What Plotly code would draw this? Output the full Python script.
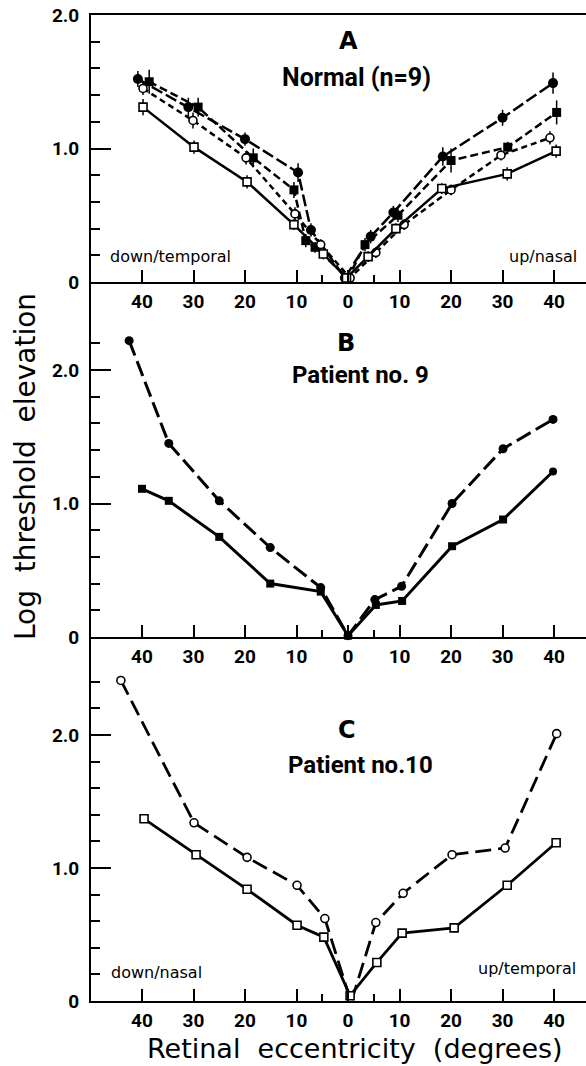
import plotly.graph_objects as go

# ---------------- data ----------------
# Panel A : Normal (n=9)
A_fc_x = [-40.8, -31.0, -20.0, -9.7, -7.2, -0.6, 4.4, 8.8, 18.4, 30.0, 39.8]
A_fc_y = [1.52, 1.31, 1.07, 0.82, 0.39, 0.03, 0.34, 0.52, 0.94, 1.23, 1.49]
A_fc_e = [0.06, 0.07, 0.05, 0.07, 0.05, 0.0, 0.05, 0.05, 0.07, 0.06, 0.08]

A_fs_x = [-38.6, -29.1, -18.4, -10.5, -8.2, -6.4, 0.0, 3.3, 9.7, 20.0, 31.0, 40.5]
A_fs_y = [1.50, 1.31, 0.93, 0.69, 0.31, 0.26, 0.03, 0.28, 0.50, 0.91, 1.01, 1.27]
A_fs_e = [0.09, 0.07, 0.07, 0.06, 0.05, 0.04, 0.0, 0.05, 0.05, 0.09, 0.04, 0.09]

A_oc_x = [-39.8, -30.1, -19.8, -10.3, -5.3, 0.4, 5.4, 10.9, 20.0, 29.7, 39.2]
A_oc_y = [1.45, 1.21, 0.93, 0.51, 0.28, 0.03, 0.22, 0.43, 0.69, 0.95, 1.08]
A_oc_e = [0.05, 0.06, 0.05, 0.05, 0.04, 0.0, 0.04, 0.04, 0.04, 0.04, 0.05]

A_os_x = [-39.8, -29.9, -19.6, -10.5, -4.8, -0.3, 3.9, 9.3, 18.2, 30.9, 40.4]
A_os_y = [1.31, 1.01, 0.75, 0.43, 0.21, 0.03, 0.19, 0.40, 0.70, 0.81, 0.98]
A_os_e = [0.06, 0.05, 0.05, 0.04, 0.04, 0.0, 0.04, 0.04, 0.04, 0.05, 0.05]

# Panel B : Patient no. 9
B_fc_x = [-42.5, -34.8, -25.0, -15.1, -5.3, 0.0, 5.2, 10.4, 20.2, 30.1, 39.8]
B_fc_y = [2.22, 1.45, 1.02, 0.67, 0.37, 0.01, 0.28, 0.38, 1.00, 1.41, 1.63]
B_fs_x = [-40.0, -34.8, -25.0, -15.1, -5.3, 0.0, 5.4, 10.5, 20.2, 30.1, 39.8]
B_fs_y = [1.11, 1.02, 0.75, 0.40, 0.34, 0.01, 0.24, 0.27, 0.68, 0.88, 1.24]

# Panel C : Patient no. 10
C_oc_x = [-44.1, -29.9, -19.6, -9.9, -4.5, 0.6, 5.4, 10.7, 20.2, 30.5, 40.5]
C_oc_y = [2.41, 1.34, 1.08, 0.87, 0.62, -0.01, 0.59, 0.81, 1.10, 1.15, 2.01]
C_os_x = [-39.6, -29.5, -19.6, -9.9, -4.7, 0.4, 5.6, 10.5, 20.6, 30.9, 40.4]
C_os_y = [1.37, 1.10, 0.84, 0.57, 0.48, 0.04, 0.29, 0.51, 0.55, 0.87, 1.19]

x_tickvals = [-40, -30, -20, -10, 0, 10, 20, 30, 40]
x_ticktext = ["40", "30", "20", "10", "0", "10", "20", "30", "40"]
y_tickvals = [0, 1, 2]
y_ticktext = ["0", "1.0", "2.0"]

# ---------------- styling ----------------
BOLDF = "Roboto, Liberation Sans, sans-serif"
SANS = "DejaVu Sans, Liberation Sans, sans-serif"
W, H = 586, 1066
L, R, T, B = 91, 0, 15, 65
PW, PH = W - L - R, H - T - B


def pxx(x):
    return (x - L) / PW


def pxy(y):
    return (H - B - y) / PH


fig = go.Figure()


def add(xs, ys, xa, ya, symbol, dash, lw=2.5, msize=9, err=None, filled=True):
    marker = dict(symbol=symbol, size=msize, color="black" if filled else "white",
                  line=dict(color="black", width=1.6 if not filled else 0))
    tr = go.Scatter(x=xs, y=ys, xaxis=xa, yaxis=ya, mode="lines+markers",
                    line=dict(color="black", width=lw, dash=dash),
                    marker=marker, cliponaxis=False, showlegend=False)
    if err is not None:
        tr.error_y = dict(type="data", array=err, visible=True, thickness=1.5,
                          width=0, color="black")
    fig.add_trace(tr)


# Panel A (top)
add(A_fc_x, A_fc_y, "x3", "y3", "circle", "12px,4px", msize=10, err=A_fc_e)
add(A_fs_x, A_fs_y, "x3", "y3", "square", "8px,4px", err=A_fs_e)
add(A_oc_x, A_oc_y, "x3", "y3", "circle", "6px,4px", msize=8, err=A_oc_e, filled=False)
add(A_os_x, A_os_y, "x3", "y3", "square", "solid", msize=8, err=A_os_e, filled=False)

# Panel B (middle)
B_fs_sym = ["square"] * (len(B_fs_x) - 1) + ["circle"]
add(B_fc_x, B_fc_y, "x2", "y2", "circle", "16px,6px", lw=3, msize=9)
add(B_fs_x, B_fs_y, "x2", "y2", B_fs_sym, "solid", lw=3, msize=8)

# Panel C (bottom)
add(C_oc_x, C_oc_y, "x", "y", "circle", "16px,7px", lw=2.8, msize=8, filled=False)
add(C_os_x, C_os_y, "x", "y", "square", "solid", lw=2.8, msize=8, filled=False)

# ---------------- axes ----------------
xcommon = dict(range=[-49.9, 46.2], showline=True, linecolor="black", linewidth=2,
               ticks="inside", tickvals=x_tickvals, ticktext=x_ticktext,
               ticklen=12, tickwidth=1.5, tickcolor="black",
               minor=dict(tickvals=[-5, 5], ticks="inside", ticklen=7,
                          tickwidth=1.5, tickcolor="black"),
               showgrid=False, zeroline=False, ticklabelstandoff=1,
               tickfont=dict(family=BOLDF, size=19, color="black", weight="bold"))

ycommon = dict(showline=True, linecolor="black", linewidth=2,
               ticks="inside", tickvals=y_tickvals, ticktext=y_ticktext,
               ticklen=20, tickwidth=1.5, tickcolor="black",
               showgrid=False, zeroline=False, ticklabelstandoff=6,
               tickfont=dict(family=BOLDF, size=19, color="black", weight="bold"))

dA = pxy(282)
dB = pxy(637)

fig.update_layout(
    width=W, height=H, margin=dict(l=L, r=R, t=T, b=B),
    paper_bgcolor="white", plot_bgcolor="white",
    xaxis=dict(anchor="y", **xcommon),
    xaxis2=dict(anchor="y2", **xcommon),
    xaxis3=dict(anchor="y3", mirror=True, **xcommon),
    yaxis=dict(domain=[0, dB], range=[0, (1001 - 637) / 133.0], anchor="x",
               minor=dict(tickvals=[0.2, 0.4, 0.6, 0.8, 1.2, 1.4, 1.6, 1.8, 2.2, 2.4],
                          ticks="inside", ticklen=9, tickwidth=1.5, tickcolor="black"),
               **ycommon),
    yaxis2=dict(domain=[dB, dA], range=[0, (637 - 282) / 133.5], anchor="x2",
                minor=dict(tickvals=[0.2, 0.4, 0.6, 0.8, 1.2, 1.4, 1.6, 1.8, 2.2],
                           ticks="inside", ticklen=9, tickwidth=1.5, tickcolor="black"),
                **ycommon),
    yaxis3=dict(domain=[dA, 1], range=[0, 2.0], anchor="x3",
                minor=dict(tickvals=[0.2, 0.4, 0.6, 0.8, 1.2, 1.4, 1.6, 1.8],
                           ticks="inside", ticklen=9, tickwidth=1.5, tickcolor="black"),
                **ycommon),
)

# ---------------- text ----------------
def note(text, x, y, family=BOLDF, size=24, weight="bold", xanchor="center", angle=0):
    fig.add_annotation(text=text, x=pxx(x), y=pxy(y), xref="paper", yref="paper",
                       showarrow=False, xanchor=xanchor, yanchor="middle",
                       textangle=angle,
                       font=dict(family=family, size=size, color="black", weight=weight))


note("A", 348, 41, family=SANS, size=24, weight=900)
note("Normal (n=9)", 356, 77, size=25)
note("B", 346, 343, family=SANS, size=24, weight=900)
note("Patient no. 9", 360, 375)
note("C", 347, 730, family=SANS, size=24, weight=900)
note("Patient no.10", 360, 765)

note("down/temporal", 108, 257, family=SANS, size=16, weight="normal", xanchor="left")
note("up/nasal", 579, 257, family=SANS, size=16, weight="normal", xanchor="right")
note("down/nasal", 109, 972, family=SANS, size=16, weight="normal", xanchor="left")
note("up/temporal", 578, 968, family=SANS, size=16, weight="normal", xanchor="right")

note("Log  threshold  elevation", 25, 467, family=SANS, size=28, weight="normal", angle=-90)
note("Retinal  eccentricity  (degrees)", 355, 1048, family=SANS, size=27, weight="normal")

fig.write_html("out.html")
